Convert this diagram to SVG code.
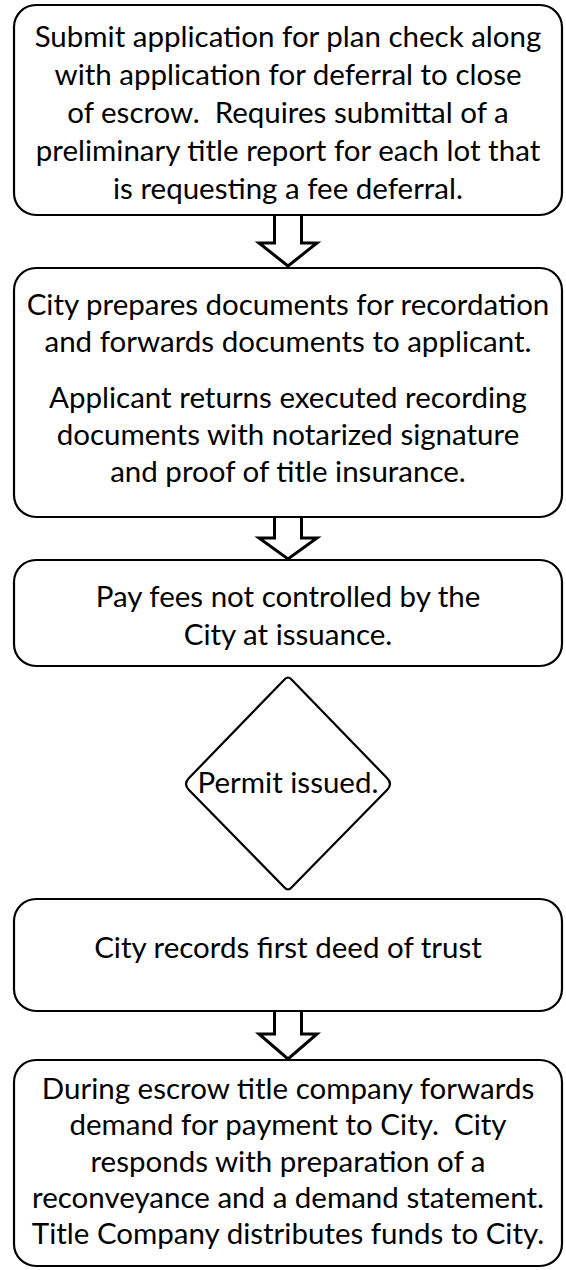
<svg xmlns="http://www.w3.org/2000/svg" width="566" height="1270" viewBox="0 0 566 1270">
<style>
.box{fill:#fff;stroke:#000;stroke-width:2.2}
.arrow{fill:#fff;stroke:#000;stroke-width:3;stroke-linejoin:miter}
text{font-family:Lato,"Open Sans","Liberation Sans",sans-serif;font-size:29.5px;fill:#000;text-anchor:middle;white-space:pre}
</style>
<rect width="566" height="1270" fill="#fff"/>
<g id="connectors">
<path class="arrow" d="M274.5,215 V243 H259 L288,266 L317,243 H301.5 V215"/>
<path class="arrow" d="M274.5,517 V538 H259 L288,559 L317,538 H301.5 V517"/>
<path class="arrow" d="M274.5,1011 V1034 H259 L288,1059 L317,1034 H301.5 V1011"/>
</g>
<g id="n1">
<rect class="box" x="14" y="5" width="548" height="210" rx="22"/>
<text x="288" y="47">Submit application for plan check along</text>
<text x="288" y="85">with application for deferral to close</text>
<text x="288" y="123" xml:space="preserve">of escrow.  Requires submittal of a</text>
<text x="288" y="161">preliminary title report for each lot that</text>
<text x="288" y="199">is requesting a fee deferral.</text>
</g>
<g id="n2">
<rect class="box" x="14" y="268" width="548" height="249" rx="22"/>
<text x="288" y="315">City prepares documents for recordation</text>
<text x="288" y="352">and forwards documents to applicant.</text>
<text x="288" y="408">Applicant returns executed recording</text>
<text x="288" y="445">documents with notarized signature</text>
<text x="288" y="482">and proof of title insurance.</text>
</g>
<g id="n3">
<rect class="box" x="14" y="560" width="548" height="106" rx="22"/>
<text x="288" y="607">Pay fees not controlled by the</text>
<text x="288" y="645">City at issuance.</text>
</g>
<g id="n4">
<path class="box" d="M284,680 Q288,675 292,680 L387,778 Q393,784 387,790 L292,887 Q288,892 284,887 L189,790 Q183,784 189,778 Z"/>
<text x="288" y="793">Permit issued.</text>
</g>
<g id="n5">
<rect class="box" x="14" y="899" width="548" height="112" rx="22"/>
<text x="288" y="958">City records first deed of trust</text>
</g>
<g id="n6">
<rect class="box" x="14" y="1060" width="548" height="206" rx="22"/>
<text x="288" y="1099">During escrow title company forwards</text>
<text x="288" y="1135" xml:space="preserve">demand for payment to City.  City</text>
<text x="288" y="1172">responds with preparation of a</text>
<text x="288" y="1208">reconveyance and a demand statement.</text>
<text x="288" y="1244">Title Company distributes funds to City.</text>
</g>
</svg>
